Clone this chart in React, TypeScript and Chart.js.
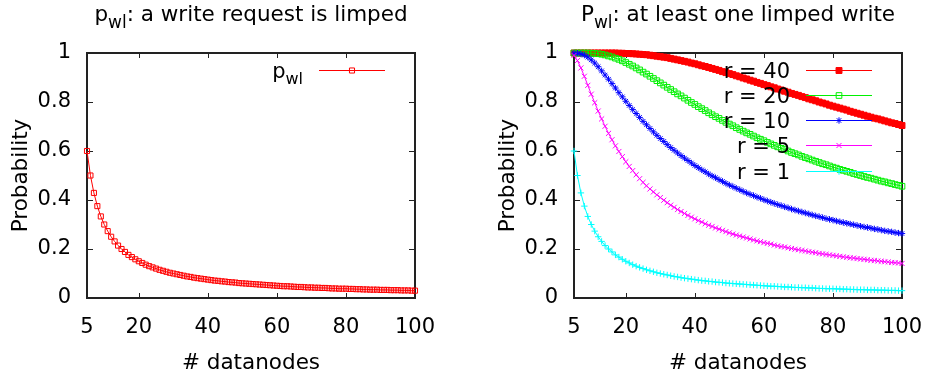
import React, { useEffect, useRef } from "react";
import { Chart, registerables } from "chart.js";

Chart.register(...registerables);

const FONT_FAMILY = "'DejaVu Sans', 'Liberation Sans', sans-serif";

// x categories: number of datanodes
const datanodes = [
  5, 6, 7, 8, 9, 10, 11, 12, 13, 14,
  15, 16, 17, 18, 19, 20, 21, 22, 23, 24,
  25, 26, 27, 28, 29, 30, 31, 32, 33, 34,
  35, 36, 37, 38, 39, 40, 41, 42, 43, 44,
  45, 46, 47, 48, 49, 50, 51, 52, 53, 54,
  55, 56, 57, 58, 59, 60, 61, 62, 63, 64,
  65, 66, 67, 68, 69, 70, 71, 72, 73, 74,
  75, 76, 77, 78, 79, 80, 81, 82, 83, 84,
  85, 86, 87, 88, 89, 90, 91, 92, 93, 94,
  95, 96, 97, 98, 99, 100,
];

const xTickValues = [5, 20, 40, 60, 80, 100];
const xTickLabels = ["5", "20", "40", "60", "80", "100"];
const yTickValues = [0, 0.2, 0.4, 0.6, 0.8, 1];
const yTickLabels = ["0", "0.2", "0.4", "0.6", "0.8", "1"];

// Left panel: p_wl
const pWriteLimped = [
  0.600, 0.500, 0.429, 0.375, 0.333, 0.300, 0.273, 0.250, 0.231, 0.214,
  0.200, 0.188, 0.176, 0.167, 0.158, 0.150, 0.143, 0.136, 0.130, 0.125,
  0.120, 0.115, 0.111, 0.107, 0.103, 0.100, 0.097, 0.094, 0.091, 0.088,
  0.086, 0.083, 0.081, 0.079, 0.077, 0.075, 0.073, 0.071, 0.070, 0.068,
  0.067, 0.065, 0.064, 0.063, 0.061, 0.060, 0.059, 0.058, 0.057, 0.056,
  0.055, 0.054, 0.053, 0.052, 0.051, 0.050, 0.049, 0.048, 0.048, 0.047,
  0.046, 0.045, 0.045, 0.044, 0.043, 0.043, 0.042, 0.042, 0.041, 0.041,
  0.040, 0.039, 0.039, 0.038, 0.038, 0.038, 0.037, 0.037, 0.036, 0.036,
  0.035, 0.035, 0.034, 0.034, 0.034, 0.033, 0.033, 0.033, 0.032, 0.032,
  0.032, 0.031, 0.031, 0.031, 0.030, 0.030,
];

// Right panel: P_wl for r = 40, 20, 10, 5, 1
const atLeastOneR40 = [
  1.000, 1.000, 1.000, 1.000, 1.000, 1.000, 1.000, 1.000, 1.000, 1.000,
  1.000, 1.000, 1.000, 0.999, 0.999, 0.998, 0.998, 0.997, 0.996, 0.995,
  0.994, 0.993, 0.991, 0.989, 0.987, 0.985, 0.983, 0.981, 0.978, 0.975,
  0.972, 0.969, 0.966, 0.963, 0.959, 0.956, 0.952, 0.948, 0.945, 0.941,
  0.937, 0.933, 0.929, 0.924, 0.920, 0.916, 0.912, 0.907, 0.903, 0.898,
  0.894, 0.889, 0.885, 0.880, 0.876, 0.871, 0.867, 0.862, 0.858, 0.853,
  0.849, 0.844, 0.840, 0.835, 0.831, 0.827, 0.822, 0.818, 0.813, 0.809,
  0.805, 0.800, 0.796, 0.792, 0.787, 0.783, 0.779, 0.775, 0.771, 0.767,
  0.762, 0.758, 0.754, 0.750, 0.746, 0.742, 0.738, 0.734, 0.731, 0.727,
  0.723, 0.719, 0.715, 0.712, 0.708, 0.704,
];

const atLeastOneR20 = [
  1.000, 1.000, 1.000, 1.000, 1.000, 0.999, 0.998, 0.997, 0.995, 0.992,
  0.988, 0.984, 0.979, 0.974, 0.968, 0.961, 0.954, 0.947, 0.939, 0.931,
  0.922, 0.914, 0.905, 0.896, 0.887, 0.878, 0.869, 0.860, 0.851, 0.842,
  0.833, 0.825, 0.816, 0.807, 0.798, 0.790, 0.781, 0.773, 0.765, 0.756,
  0.748, 0.740, 0.733, 0.725, 0.717, 0.710, 0.703, 0.695, 0.688, 0.681,
  0.674, 0.668, 0.661, 0.654, 0.648, 0.642, 0.635, 0.629, 0.623, 0.617,
  0.611, 0.606, 0.600, 0.594, 0.589, 0.584, 0.578, 0.573, 0.568, 0.563,
  0.558, 0.553, 0.548, 0.544, 0.539, 0.534, 0.530, 0.525, 0.521, 0.517,
  0.513, 0.508, 0.504, 0.500, 0.496, 0.492, 0.489, 0.485, 0.481, 0.477,
  0.474, 0.470, 0.467, 0.463, 0.460, 0.456,
];

const atLeastOneR10 = [
  1.000, 0.999, 0.996, 0.991, 0.983, 0.972, 0.959, 0.944, 0.927, 0.910,
  0.893, 0.875, 0.857, 0.838, 0.821, 0.803, 0.786, 0.769, 0.753, 0.737,
  0.721, 0.707, 0.692, 0.678, 0.664, 0.651, 0.639, 0.626, 0.614, 0.603,
  0.592, 0.581, 0.571, 0.561, 0.551, 0.541, 0.532, 0.523, 0.515, 0.506,
  0.498, 0.491, 0.483, 0.476, 0.468, 0.461, 0.455, 0.448, 0.442, 0.435,
  0.429, 0.423, 0.418, 0.412, 0.407, 0.401, 0.396, 0.391, 0.386, 0.381,
  0.377, 0.372, 0.368, 0.363, 0.359, 0.355, 0.351, 0.347, 0.343, 0.339,
  0.335, 0.332, 0.328, 0.324, 0.321, 0.318, 0.314, 0.311, 0.308, 0.305,
  0.302, 0.299, 0.296, 0.293, 0.290, 0.288, 0.285, 0.282, 0.280, 0.277,
  0.274, 0.272, 0.270, 0.267, 0.265, 0.263,
];

const atLeastOneR5 = [
  0.990, 0.969, 0.939, 0.905, 0.868, 0.832, 0.797, 0.763, 0.731, 0.701,
  0.672, 0.646, 0.621, 0.598, 0.577, 0.556, 0.537, 0.520, 0.503, 0.487,
  0.472, 0.458, 0.445, 0.433, 0.421, 0.410, 0.399, 0.389, 0.379, 0.370,
  0.361, 0.353, 0.345, 0.337, 0.330, 0.323, 0.316, 0.310, 0.303, 0.297,
  0.292, 0.286, 0.281, 0.276, 0.271, 0.266, 0.261, 0.257, 0.253, 0.249,
  0.245, 0.241, 0.237, 0.233, 0.230, 0.226, 0.223, 0.220, 0.216, 0.213,
  0.210, 0.208, 0.205, 0.202, 0.199, 0.197, 0.194, 0.192, 0.189, 0.187,
  0.185, 0.182, 0.180, 0.178, 0.176, 0.174, 0.172, 0.170, 0.168, 0.166,
  0.164, 0.163, 0.161, 0.159, 0.158, 0.156, 0.154, 0.153, 0.151, 0.150,
  0.148, 0.147, 0.145, 0.144, 0.143, 0.141,
];

const atLeastOneR1 = [
  0.600, 0.500, 0.429, 0.375, 0.333, 0.300, 0.273, 0.250, 0.231, 0.214,
  0.200, 0.188, 0.176, 0.167, 0.158, 0.150, 0.143, 0.136, 0.130, 0.125,
  0.120, 0.115, 0.111, 0.107, 0.103, 0.100, 0.097, 0.094, 0.091, 0.088,
  0.086, 0.083, 0.081, 0.079, 0.077, 0.075, 0.073, 0.071, 0.070, 0.068,
  0.067, 0.065, 0.064, 0.063, 0.061, 0.060, 0.059, 0.058, 0.057, 0.056,
  0.055, 0.054, 0.053, 0.052, 0.051, 0.050, 0.049, 0.048, 0.048, 0.047,
  0.046, 0.045, 0.045, 0.044, 0.043, 0.043, 0.042, 0.042, 0.041, 0.041,
  0.040, 0.039, 0.039, 0.038, 0.038, 0.038, 0.037, 0.037, 0.036, 0.036,
  0.035, 0.035, 0.034, 0.034, 0.034, 0.033, 0.033, 0.033, 0.032, 0.032,
  0.032, 0.031, 0.031, 0.031, 0.030, 0.030,
];

type TextPart = { text: string; sub?: boolean };
type Series = {
  legend: TextPart[];
  values: number[];
  color: string;
  pointStyle: string;
  radius: number;
  filled: boolean;
};

const leftTitle: TextPart[] = [
  { text: "p" },
  { text: "wl", sub: true },
  { text: ": a write request is limped" },
];
const rightTitle: TextPart[] = [
  { text: "P" },
  { text: "wl", sub: true },
  { text: ": at least one limped write" },
];

const leftSeries: Series[] = [
  { legend: [{ text: "p" }, { text: "wl", sub: true }], values: pWriteLimped, color: "#ff0000", pointStyle: "rect", radius: 3.6, filled: false },
];

const rightSeries: Series[] = [
  { legend: [{ text: "r = 40" }], values: atLeastOneR40, color: "#ff0000", pointStyle: "rect", radius: 4.2, filled: true },
  { legend: [{ text: "r = 20" }], values: atLeastOneR20, color: "#00f000", pointStyle: "rect", radius: 4, filled: false },
  { legend: [{ text: "r = 10" }], values: atLeastOneR10, color: "#0000ff", pointStyle: "star", radius: 3.2, filled: false },
  { legend: [{ text: "r = 5" }], values: atLeastOneR5, color: "#ff00ff", pointStyle: "crossRot", radius: 3.6, filled: false },
  { legend: [{ text: "r = 1" }], values: atLeastOneR1, color: "#00ffff", pointStyle: "cross", radius: 3.2, filled: false },
];

const MAIN_SIZE = 21;
const TITLE_SIZE = 21.5;

function partsWidth(ctx: CanvasRenderingContext2D, parts: TextPart[], size: number, subSize: number) {
  let w = 0;
  for (const p of parts) {
    ctx.font = `${p.sub ? subSize : size}px ${FONT_FAMILY}`;
    w += ctx.measureText(p.text).width;
  }
  return w;
}

function drawParts(
  ctx: CanvasRenderingContext2D,
  parts: TextPart[],
  x: number,
  baseline: number,
  size: number,
  subSize: number,
  subDrop: number
) {
  ctx.textAlign = "left";
  ctx.textBaseline = "alphabetic";
  ctx.fillStyle = "#000";
  let cx = x;
  for (const p of parts) {
    ctx.font = `${p.sub ? subSize : size}px ${FONT_FAMILY}`;
    ctx.fillText(p.text, cx, p.sub ? baseline + subDrop : baseline);
    cx += ctx.measureText(p.text).width;
  }
}

function drawMarker(
  ctx: CanvasRenderingContext2D,
  style: string,
  x: number,
  y: number,
  r: number,
  color: string,
  filled: boolean
) {
  ctx.save();
  ctx.strokeStyle = color;
  ctx.fillStyle = color;
  ctx.lineWidth = 1;
  ctx.beginPath();
  if (style === "rect") {
    const s = r * Math.SQRT1_2;
    ctx.rect(x - s, y - s, 2 * s, 2 * s);
    if (filled) ctx.fill();
    ctx.stroke();
  } else {
    if (style === "cross" || style === "star") {
      ctx.moveTo(x - r, y);
      ctx.lineTo(x + r, y);
      ctx.moveTo(x, y - r);
      ctx.lineTo(x, y + r);
    }
    if (style === "crossRot" || style === "star") {
      const d = r * Math.SQRT1_2;
      ctx.moveTo(x - d, y - d);
      ctx.lineTo(x + d, y + d);
      ctx.moveTo(x - d, y + d);
      ctx.lineTo(x + d, y - d);
    }
    ctx.stroke();
  }
  ctx.restore();
}

function Panel({ left, title, series }: { left: number; title: TextPart[]; series: Series[] }) {
  const ref = useRef<HTMLCanvasElement>(null);

  useEffect(() => {
    const canvas = ref.current;
    if (!canvas) return;

    const framePlugin = {
      id: "gpFrame",
      beforeDatasetsDraw(chart: any) {
        const { ctx, chartArea } = chart;
        const { left: l, right: r, top: t, bottom: b } = chartArea;
        const xs = chart.scales.x;
        const ys = chart.scales.y;
        ctx.save();
        ctx.strokeStyle = "#222";
        ctx.lineWidth = 1;
        ctx.beginPath();
        for (const v of xTickValues) {
          if (v === xs.min || v === xs.max) continue;
          const px = Math.round(xs.getPixelForValue(v)) + 0.5;
          ctx.moveTo(px, b);
          ctx.lineTo(px, b - 5);
          ctx.moveTo(px, t);
          ctx.lineTo(px, t + 5);
        }
        for (const v of yTickValues) {
          if (v === ys.min || v === ys.max) continue;
          const py = Math.round(ys.getPixelForValue(v)) + 0.5;
          ctx.moveTo(l, py);
          ctx.lineTo(l + 6, py);
          ctx.moveTo(r, py);
          ctx.lineTo(r - 6, py);
        }
        ctx.stroke();
        ctx.lineWidth = 2;
        ctx.strokeRect(l, t, r - l, b - t);
        ctx.restore();
      },
    };

    const titlePlugin = {
      id: "gpTitle",
      afterDraw(chart: any) {
        const { ctx, chartArea } = chart;
        ctx.save();
        const subSize = 17;
        const w = partsWidth(ctx, title, TITLE_SIZE, subSize);
        const cx = (chartArea.left + chartArea.right) / 2;
        drawParts(ctx, title, cx - w / 2, 21, TITLE_SIZE, subSize, 7);
        ctx.restore();
      },
    };

    const legendPlugin = {
      id: "gpLegend",
      afterDatasetsDraw(chart: any) {
        const { ctx, chartArea } = chart;
        ctx.save();
        const sampleEnd = chartArea.right - 30;
        const sampleStart = sampleEnd - 66;
        const textRight = sampleStart - 16;
        const subSize = 16;
        series.forEach((s, i) => {
          const y = chartArea.top + 16.5 + i * 25.3;
          const w = partsWidth(ctx, s.legend, MAIN_SIZE, subSize);
          drawParts(ctx, s.legend, textRight - w, y + 8, MAIN_SIZE, subSize, 6);
          ctx.strokeStyle = s.color;
          ctx.lineWidth = 1;
          ctx.beginPath();
          ctx.moveTo(sampleStart, Math.round(y) + 0.5);
          ctx.lineTo(sampleEnd, Math.round(y) + 0.5);
          ctx.stroke();
          drawMarker(ctx, s.pointStyle, (sampleStart + sampleEnd) / 2, Math.round(y) + 0.5, s.radius, s.color, s.filled);
        });
        ctx.restore();
      },
    };

    const tickFont = { family: FONT_FAMILY, size: MAIN_SIZE };
    const titleFont = { family: FONT_FAMILY, size: TITLE_SIZE };

    const chart = new Chart(canvas, {
      type: "line",
      data: {
        datasets: series.map((s, i) => ({
          label: s.legend.map((p) => p.text).join(""),
          data: datanodes.map((n, k) => ({ x: n, y: s.values[k] })),
          borderColor: s.color,
          backgroundColor: s.color,
          borderWidth: 1,
          pointStyle: s.pointStyle as any,
          pointRadius: s.radius,
          pointHoverRadius: s.radius,
          pointBorderWidth: 1,
          pointBorderColor: s.color,
          pointBackgroundColor: s.filled ? s.color : "rgba(0,0,0,0)",
          tension: 0,
          clip: false as any,
          order: series.length - i,
        })),
      },
      options: {
        animation: false,
        responsive: false,
        devicePixelRatio: 1,
        events: [],
        layout: { padding: { left: 0, right: 25, top: 53, bottom: 0 } },
        plugins: {
          legend: { display: false },
          title: { display: false },
          tooltip: { enabled: false },
        },
        scales: {
          x: {
            type: "linear",
            min: 5,
            max: 100,
            afterBuildTicks: (s: any) => {
              s.ticks = xTickValues.map((v) => ({ value: v }));
            },
            afterFit: (s: any) => {
              s.height = 83;
              s.paddingLeft = 0;
              s.paddingRight = 0;
            },
            ticks: {
              font: tickFont,
              color: "#000",
              padding: 17,
              maxRotation: 0,
              autoSkip: false,
              callback: (_v: any, i: number) => xTickLabels[i],
            },
            grid: { display: false, drawTicks: false, tickLength: 0 },
            border: { display: false },
            title: {
              display: true,
              text: "# datanodes",
              font: titleFont,
              color: "#000",
              padding: { top: 0, bottom: 5 },
            },
          },
          y: {
            type: "linear",
            min: 0,
            max: 1,
            afterBuildTicks: (s: any) => {
              s.ticks = yTickValues.map((v) => ({ value: v }));
            },
            afterFit: (s: any) => {
              s.width = 87;
              s.paddingTop = 0;
              s.paddingBottom = 0;
            },
            ticks: {
              font: tickFont,
              color: "#000",
              padding: 16,
              callback: (_v: any, i: number) => yTickLabels[i],
            },
            grid: { display: false, drawTicks: false, tickLength: 0 },
            border: { display: false },
            title: {
              display: true,
              text: "Probability",
              font: titleFont,
              color: "#000",
              padding: { top: 9, bottom: 0 },
            },
          },
        },
      } as any,
      plugins: [framePlugin, legendPlugin, titlePlugin],
    });

    return () => chart.destroy();
  }, []);

  return (
    <canvas
      ref={ref}
      width={440}
      height={381}
      style={{ position: "absolute", left, top: 0, width: 440, height: 381, display: "block" }}
    />
  );
}

export default function App() {
  return (
    <div
      style={{
        position: "absolute",
        left: 0,
        top: 0,
        width: 927,
        height: 381,
        background: "#fff",
        overflow: "hidden",
      }}
    >
      <Panel left={0} title={leftTitle} series={leftSeries} />
      <Panel left={487} title={rightTitle} series={rightSeries} />
    </div>
  );
}
